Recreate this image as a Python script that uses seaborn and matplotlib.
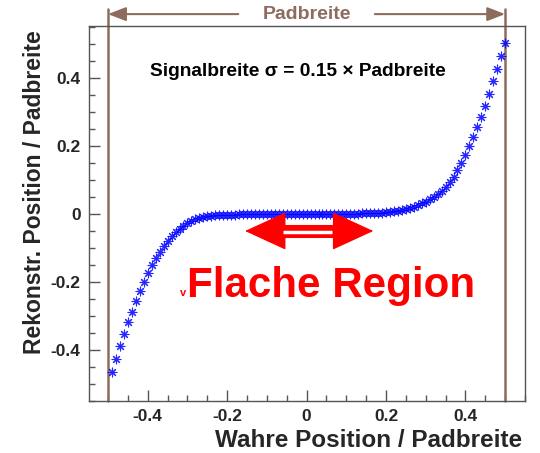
import numpy as np
import pandas as pd
import matplotlib
matplotlib.use("Agg")
import matplotlib.pyplot as plt
from matplotlib.ticker import MultipleLocator
import seaborn as sns

########## Data ##########

# true position / pad width (one point every 0.01)
true_pos = [
    -0.49, -0.48, -0.47, -0.46, -0.45, -0.44, -0.43, -0.42, -0.41, -0.40,
    -0.39, -0.38, -0.37, -0.36, -0.35, -0.34, -0.33, -0.32, -0.31, -0.30,
    -0.29, -0.28, -0.27, -0.26, -0.25, -0.24, -0.23, -0.22, -0.21, -0.20,
    -0.19, -0.18, -0.17, -0.16, -0.15, -0.14, -0.13, -0.12, -0.11, -0.10,
    -0.09, -0.08, -0.07, -0.06, -0.05, -0.04, -0.03, -0.02, -0.01, 0.00,
    0.01, 0.02, 0.03, 0.04, 0.05, 0.06, 0.07, 0.08, 0.09, 0.10,
    0.11, 0.12, 0.13, 0.14, 0.15, 0.16, 0.17, 0.18, 0.19, 0.20,
    0.21, 0.22, 0.23, 0.24, 0.25, 0.26, 0.27, 0.28, 0.29, 0.30,
    0.31, 0.32, 0.33, 0.34, 0.35, 0.36, 0.37, 0.38, 0.39, 0.40,
    0.41, 0.42, 0.43, 0.44, 0.45, 0.46, 0.47, 0.48, 0.49, 0.50,
]

# reconstructed position / pad width
reco_pos = [
    -0.466, -0.426, -0.389, -0.354, -0.319, -0.287, -0.257, -0.226, -0.199, -0.174,
    -0.150, -0.130, -0.111, -0.094, -0.080, -0.066, -0.053, -0.043, -0.034, -0.027,
    -0.021, -0.016, -0.012, -0.009, -0.007, -0.005, -0.004, -0.003, -0.003, -0.002,
    -0.002, -0.002, -0.001, -0.001, -0.001, -0.001, -0.001, -0.001, -0.001, -0.001,
    -0.001, 0.000, 0.000, 0.000, 0.000, 0.000, 0.000, 0.000, 0.000, 0.000,
    0.000, 0.000, 0.000, 0.000, 0.000, 0.000, 0.000, 0.000, 0.001, 0.001,
    0.001, 0.001, 0.001, 0.002, 0.002, 0.002, 0.003, 0.003, 0.004, 0.005,
    0.006, 0.008, 0.010, 0.012, 0.015, 0.018, 0.022, 0.026, 0.031, 0.036,
    0.043, 0.050, 0.058, 0.067, 0.078, 0.093, 0.110, 0.129, 0.150, 0.174,
    0.200, 0.226, 0.256, 0.286, 0.319, 0.354, 0.390, 0.426, 0.465, 0.502,
]

tick_values = [-0.4, -0.2, 0.0, 0.2, 0.4]
tick_labels = ["-0.4", "-0.2", "0", "0.2", "0.4"]

pad_edges = [-0.5, 0.5]

df = pd.DataFrame({"true": true_pos, "reco": reco_pos})

########## Style ##########

sns.set_theme(style="ticks")
plt.rcParams["font.family"] = ["Liberation Sans", "DejaVu Sans"]
plt.rcParams["axes.unicode_minus"] = False

brown = "#8e6c5d"
frame = "#555555"
red = "#ff0000"

fig = plt.figure(figsize=(5.4, 4.53), dpi=100)
ax = fig.add_axes([0.1648, 0.1148, 0.8074, 0.8278])

# Points
sns.scatterplot(data=df, x="true", y="reco", marker=(8, 2, 0), s=40,
                color="#0000ff", edgecolor="#0000ff", linewidth=0.8, alpha=0.85,
                ax=ax, zorder=3)

ax.set_xlim(-0.548, 0.550)
ax.set_ylim(-0.550, 0.553)

# Pad edges (stick out above the frame)
for xe in pad_edges:
    ax.plot([xe, xe], [-0.550, 0.603], color=brown, lw=1.8, clip_on=False, zorder=2)

# "Padbreite" arrow above the frame
ax.text(0.0, 0.588, "Padbreite", color=brown, fontsize=14, fontweight="bold",
        ha="center", va="center")
ax.annotate("", xy=(pad_edges[0], 0.588), xytext=(-0.172, 0.588),
            arrowprops=dict(arrowstyle="-|>,head_length=0.9,head_width=0.35",
                            color=brown, lw=1.5, shrinkA=0, shrinkB=0),
            annotation_clip=False)
ax.annotate("", xy=(pad_edges[1], 0.588), xytext=(0.172, 0.588),
            arrowprops=dict(arrowstyle="-|>,head_length=0.9,head_width=0.35",
                            color=brown, lw=1.5, shrinkA=0, shrinkB=0),
            annotation_clip=False)

ax.text(-0.021, 0.418, "Signalbreite \u03c3 = 0.15 \u00d7 Padbreite", fontsize=13.8,
        fontweight="bold", color="black", ha="center", va="center")

# Flat region marker: two filled heads, thick shaft with a white stripe
ax.annotate("", xy=(0.168, -0.05), xytext=(-0.155, -0.05),
            arrowprops=dict(arrowstyle="<|-|>,head_length=1.37,head_width=0.63",
                            mutation_scale=20, color=red, lw=1,
                            shrinkA=0, shrinkB=0))
ax.plot([-0.065, 0.075], [-0.05, -0.05], color=red, lw=9.4, zorder=3,
        solid_capstyle="butt")
ax.plot([-0.06, 0.064], [-0.054, -0.054], color="white", lw=2.5, zorder=4,
        solid_capstyle="butt")

ax.text(-0.32, -0.242, "v", color=red, fontsize=8, fontweight="bold",
        ha="left", va="baseline")
ax.text(-0.301, -0.244, "Flache Region", color=red, fontsize=30.3,
        fontweight="bold", ha="left", va="baseline")

# Axes cosmetics
ax.set_xticks(tick_values)
ax.set_xticklabels(tick_labels)
ax.set_yticks(tick_values)
ax.set_yticklabels(tick_labels)
ax.xaxis.set_minor_locator(MultipleLocator(0.05))
ax.yaxis.set_minor_locator(MultipleLocator(0.05))
ax.tick_params(which="major", direction="in", length=8, width=1, color=frame,
               labelsize=12.5, pad=6)
ax.tick_params(which="minor", direction="in", length=4, width=1, color=frame)
for lab in ax.get_xticklabels() + ax.get_yticklabels():
    lab.set_fontweight("bold")

for sp in ax.spines.values():
    sp.set_color(frame)
    sp.set_linewidth(1.0)

ax.set_xlabel("Wahre Position / Padbreite", fontsize=17.5, fontweight="bold",
              ha="right", va="center")
ax.xaxis.set_label_coords(0.993, -0.105)
ax.set_ylabel("Rekonstr. Position / Padbreite", fontsize=16.5, fontweight="bold",
              rotation=90, rotation_mode="anchor", ha="right", va="center")
ax.yaxis.set_label_coords(-0.124, 0.989)

fig.savefig("out.png", dpi=100, facecolor="white")
